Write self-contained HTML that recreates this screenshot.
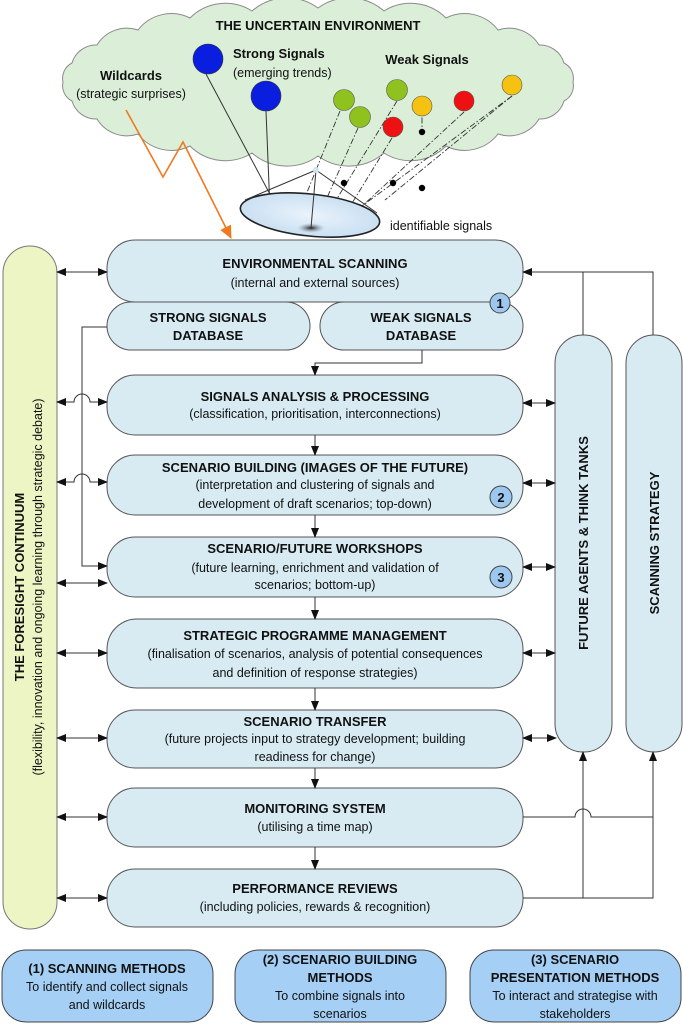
<!DOCTYPE html>
<html><head><meta charset="utf-8"><style>
html,body{margin:0;padding:0;background:#fff;}
svg{display:block;font-family:"Liberation Sans",Arial,sans-serif;}
.b{font-weight:bold;font-size:13px;fill:#111;}
.s{font-size:12.5px;fill:#111;}
.box{fill:#d8ebf3;stroke:#555;stroke-width:1;}
.ln{stroke:#333;stroke-width:1;fill:none;}
.dd{stroke:#333;stroke-width:0.9;fill:none;stroke-dasharray:6 2 1.5 2;}
</style></head><body>
<svg width="683" height="1024" viewBox="0 0 683 1024" xmlns="http://www.w3.org/2000/svg">
<defs>
<marker id="a" markerWidth="10" markerHeight="10" refX="9" refY="5" orient="auto" markerUnits="userSpaceOnUse"><path d="M0,1 L10,5 L0,9 Z" fill="#111"/></marker>
<marker id="as" markerWidth="10" markerHeight="10" refX="1" refY="5" orient="auto" markerUnits="userSpaceOnUse"><path d="M10,1 L0,5 L10,9 Z" fill="#111"/></marker>
<marker id="ao" markerWidth="14" markerHeight="14" refX="12" refY="7" orient="auto" markerUnits="userSpaceOnUse"><path d="M0,1 L13,7 L0,13 Z" fill="#f07a20"/></marker>
<radialGradient id="dg" cx="0.5" cy="0.5" r="0.6"><stop offset="0" stop-color="#eaf3fb"/><stop offset="1" stop-color="#c3dcf0"/></radialGradient>
<radialGradient id="sp" cx="0.5" cy="0.5" r="0.5"><stop offset="0" stop-color="#222"/><stop offset="1" stop-color="#9ab" stop-opacity="0"/></radialGradient>
</defs>

<!-- cloud -->
<path d="M573,82 A17,17 0 0 1 564,101 A25,25 0 0 1 539,119 A35,35 0 0 1 498,134 A42,42 0 0 1 446,146 A50,50 0 0 1 384,153 A53,53 0 0 1 318,156 A53,53 0 0 1 252,153 A50,50 0 0 1 190,146 A42,42 0 0 1 138,134 A35,35 0 0 1 97,119 A25,25 0 0 1 72,101 A17,17 0 0 1 63,82 A17,17 0 0 1 72,63 A25,25 0 0 1 97,45 A35,35 0 0 1 138,30 A42,42 0 0 1 190,18 A50,50 0 0 1 252,11 A53,53 0 0 1 318,8 A53,53 0 0 1 384,11 A50,50 0 0 1 446,18 A42,42 0 0 1 498,30 A35,35 0 0 1 539,45 A25,25 0 0 1 564,63 A17,17 0 0 1 573,82 Z" fill="#dbefd8" stroke="#8a8a8a" stroke-width="1"/>
<text x="318" y="30" text-anchor="middle" class="b" font-size="13.5">THE UNCERTAIN ENVIRONMENT</text>
<text x="233" y="58" class="b">Strong Signals</text>
<text x="233" y="77" class="s">(emerging trends)</text>
<text x="427" y="64" text-anchor="middle" class="b">Weak Signals</text>
<text x="131" y="80" text-anchor="middle" class="b">Wildcards</text>
<text x="131" y="98" text-anchor="middle" class="s">(strategic surprises)</text>

<!-- signal lines -->
<line class="ln" x1="206" y1="74" x2="281" y2="215"/>
<line class="ln" x1="266" y1="111" x2="270" y2="210"/>
<line class="dd" x1="340" y1="111" x2="295" y2="222"/>
<line class="dd" x1="358" y1="128" x2="318" y2="218"/>
<line class="dd" x1="397" y1="101" x2="322" y2="223"/>
<line class="dd" x1="392" y1="138" x2="338" y2="226"/>
<line class="dd" x1="464" y1="112" x2="360" y2="208"/>
<line class="dd" x1="512" y1="96" x2="336" y2="225"/>
<line class="dd" x1="512" y1="96" x2="385" y2="200"/>
<line class="dd" x1="422" y1="106" x2="422" y2="130"/>

<!-- balls -->
<circle cx="208" cy="59" r="15" fill="#0a1ee0" stroke="#333" stroke-width="0.6"/>
<circle cx="266" cy="96" r="15" fill="#0a1ee0" stroke="#333" stroke-width="0.6"/>
<circle cx="344" cy="100" r="10.5" fill="#8fc21e" stroke="#555" stroke-width="0.6"/>
<circle cx="360" cy="117" r="10.5" fill="#8fc21e" stroke="#555" stroke-width="0.6"/>
<circle cx="397" cy="90" r="10.5" fill="#8fc21e" stroke="#555" stroke-width="0.6"/>
<circle cx="422" cy="106" r="10" fill="#f5c212" stroke="#555" stroke-width="0.6"/>
<circle cx="512" cy="85" r="10" fill="#f5c212" stroke="#555" stroke-width="0.6"/>
<circle cx="393" cy="127" r="10" fill="#ee1111" stroke="#555" stroke-width="0.6"/>
<circle cx="464" cy="101" r="10" fill="#ee1111" stroke="#555" stroke-width="0.6"/>
<circle cx="422" cy="132" r="3.2" fill="#000"/>
<circle cx="344" cy="183" r="3.2" fill="#000"/>
<circle cx="393" cy="183" r="3.2" fill="#000"/>
<circle cx="422" cy="188" r="3.2" fill="#000"/>

<!-- dish -->
<ellipse cx="310" cy="215" rx="70" ry="21" transform="rotate(6 310 215)" fill="url(#dg)" stroke="#222" stroke-width="1.6"/>
<ellipse cx="311" cy="228" rx="14" ry="5" fill="url(#sp)"/>
<line class="ln" x1="316" y1="170" x2="245" y2="200"/>
<line class="ln" x1="316" y1="170" x2="377" y2="213"/>
<line class="ln" x1="316" y1="170" x2="311" y2="228"/>
<circle cx="316" cy="170" r="3" fill="#cfe3f6"/>
<text x="390" y="230" class="s" font-size="13">identifiable signals</text>

<!-- wildcard zigzag -->
<polyline points="126,110 163,177 183,142 231,238" fill="none" stroke="#f07a20" stroke-width="1.6" marker-end="url(#ao)"/>

<!-- left pill -->
<rect x="3" y="246" width="54" height="683" rx="27" fill="#eef5c4" stroke="#777" stroke-width="1"/>
<text transform="translate(24,587) rotate(-90)" text-anchor="middle" class="b" font-size="14">THE FORESIGHT CONTINUUM</text>
<text transform="translate(42,587) rotate(-90)" text-anchor="middle" class="s" font-size="13.5">(flexibility, innovation and ongoing learning through strategic debate)</text>

<!-- right pills -->
<rect x="555" y="335" width="57" height="417" rx="28" fill="#d8ebf3" stroke="#555"/>
<text transform="translate(588,543) rotate(-90)" text-anchor="middle" class="b" font-size="14">FUTURE AGENTS &amp; THINK TANKS</text>
<rect x="626" y="335" width="56" height="417" rx="28" fill="#d8ebf3" stroke="#555"/>
<text transform="translate(659,543) rotate(-90)" text-anchor="middle" class="b" font-size="14">SCANNING STRATEGY</text>

<!-- main boxes -->
<rect class="box" x="107" y="240" width="416" height="62" rx="28"/>
<text x="315" y="268" text-anchor="middle" class="b">ENVIRONMENTAL SCANNING</text>
<text x="315" y="287" text-anchor="middle" class="s">(internal and external sources)</text>
<rect class="box" x="107" y="302" width="203" height="48" rx="24"/>
<text x="208" y="322" text-anchor="middle" class="b">STRONG SIGNALS</text>
<text x="208" y="340" text-anchor="middle" class="b">DATABASE</text>
<rect class="box" x="320" y="302" width="203" height="48" rx="24"/>
<text x="421" y="322" text-anchor="middle" class="b">WEAK SIGNALS</text>
<text x="421" y="340" text-anchor="middle" class="b">DATABASE</text>
<circle cx="500" cy="303" r="10" fill="#9cc8f0" stroke="#444"/>
<text x="500" y="308" text-anchor="middle" class="b" font-size="12">1</text>

<rect class="box" x="107" y="375" width="416" height="60" rx="28"/>
<text x="315" y="401" text-anchor="middle" class="b">SIGNALS ANALYSIS &amp; PROCESSING</text>
<text x="315" y="418" text-anchor="middle" class="s">(classification, prioritisation, interconnections)</text>

<rect class="box" x="107" y="455" width="416" height="60" rx="28"/>
<text x="315" y="472" text-anchor="middle" class="b">SCENARIO BUILDING (IMAGES OF THE FUTURE)</text>
<text x="315" y="489" text-anchor="middle" class="s">(interpretation and clustering of signals and</text>
<text x="315" y="508" text-anchor="middle" class="s">development of draft scenarios; top-down)</text>
<circle cx="501" cy="497" r="11" fill="#9cc8f0" stroke="#444"/>
<text x="501" y="502" text-anchor="middle" class="b" font-size="12">2</text>

<rect class="box" x="107" y="537" width="416" height="60" rx="28"/>
<text x="315" y="553" text-anchor="middle" class="b">SCENARIO/FUTURE WORKSHOPS</text>
<text x="315" y="572" text-anchor="middle" class="s">(future learning, enrichment and validation of</text>
<text x="315" y="589" text-anchor="middle" class="s">scenarios; bottom-up)</text>
<circle cx="501" cy="577" r="11" fill="#9cc8f0" stroke="#444"/>
<text x="501" y="582" text-anchor="middle" class="b" font-size="12">3</text>

<rect class="box" x="107" y="619" width="416" height="69" rx="30"/>
<text x="315" y="640" text-anchor="middle" class="b">STRATEGIC PROGRAMME MANAGEMENT</text>
<text x="315" y="658" text-anchor="middle" class="s">(finalisation of scenarios, analysis of potential consequences</text>
<text x="315" y="677" text-anchor="middle" class="s">and definition of response strategies)</text>

<rect class="box" x="107" y="710" width="416" height="58" rx="28"/>
<text x="315" y="726" text-anchor="middle" class="b">SCENARIO TRANSFER</text>
<text x="315" y="743" text-anchor="middle" class="s">(future projects input to strategy development; building</text>
<text x="315" y="761" text-anchor="middle" class="s">readiness for change)</text>

<rect class="box" x="107" y="788" width="416" height="59" rx="28"/>
<text x="315" y="813" text-anchor="middle" class="b">MONITORING SYSTEM</text>
<text x="315" y="831" text-anchor="middle" class="s">(utilising a time map)</text>

<rect class="box" x="107" y="869" width="416" height="58" rx="28"/>
<text x="315" y="893" text-anchor="middle" class="b">PERFORMANCE REVIEWS</text>
<text x="315" y="911" text-anchor="middle" class="s">(including policies, rewards &amp; recognition)</text>

<!-- vertical flow arrows -->
<polyline class="ln" points="422,350 422,363 315,363 315,375" marker-end="url(#a)"/>
<line class="ln" x1="315" y1="435" x2="315" y2="455" marker-end="url(#a)"/>
<line class="ln" x1="315" y1="515" x2="315" y2="537" marker-end="url(#a)"/>
<line class="ln" x1="315" y1="597" x2="315" y2="619" marker-end="url(#a)"/>
<line class="ln" x1="315" y1="688" x2="315" y2="710" marker-end="url(#a)"/>
<line class="ln" x1="315" y1="768" x2="315" y2="788" marker-end="url(#a)"/>
<line class="ln" x1="315" y1="847" x2="315" y2="869" marker-end="url(#a)"/>

<!-- left bidirectional -->
<line class="ln" x1="57" y1="272" x2="107" y2="272" marker-start="url(#as)" marker-end="url(#a)"/>
<path class="ln" d="M57,402 L74,402 A8,8 0 0 1 90,402 L107,402" marker-start="url(#as)" marker-end="url(#a)"/>
<path class="ln" d="M57,482 L74,482 A8,8 0 0 1 90,482 L107,482" marker-start="url(#as)" marker-end="url(#a)"/>
<line class="ln" x1="57" y1="583" x2="107" y2="583" marker-start="url(#as)" marker-end="url(#a)"/>
<line class="ln" x1="57" y1="653" x2="107" y2="653" marker-start="url(#as)" marker-end="url(#a)"/>
<line class="ln" x1="57" y1="738" x2="107" y2="738" marker-start="url(#as)" marker-end="url(#a)"/>
<line class="ln" x1="57" y1="817" x2="107" y2="817" marker-start="url(#as)" marker-end="url(#a)"/>
<line class="ln" x1="57" y1="898" x2="107" y2="898" marker-start="url(#as)" marker-end="url(#a)"/>
<!-- strong db to workshops -->
<polyline class="ln" points="107,327 82,327 82,566 107,566" marker-end="url(#a)"/>

<!-- right bidirectional -->
<line class="ln" x1="523" y1="403" x2="555" y2="403" marker-start="url(#as)" marker-end="url(#a)"/>
<line class="ln" x1="523" y1="483" x2="555" y2="483" marker-start="url(#as)" marker-end="url(#a)"/>
<line class="ln" x1="523" y1="567" x2="555" y2="567" marker-start="url(#as)" marker-end="url(#a)"/>
<line class="ln" x1="523" y1="653" x2="555" y2="653" marker-start="url(#as)" marker-end="url(#a)"/>
<line class="ln" x1="523" y1="738" x2="556" y2="738" marker-start="url(#as)" marker-end="url(#a)"/>

<!-- top feedback -->
<polyline class="ln" points="653,335 653,272 523,272" marker-end="url(#a)"/>
<line class="ln" x1="583" y1="272" x2="583" y2="335"/>

<!-- bottom feedback -->
<path class="ln" d="M523,817 L575,817 A8,8 0 0 1 591,817 L653,817"/>
<polyline class="ln" points="523,898 653,898 653,752" marker-end="url(#a)"/>
<line class="ln" x1="583" y1="898" x2="583" y2="752" marker-end="url(#a)"/>

<!-- bottom boxes -->
<rect x="2" y="950" width="211" height="72" rx="24" fill="#a5cff5" stroke="#444"/>
<text x="107" y="973" text-anchor="middle" class="b" font-size="13.5">(1)  SCANNING METHODS</text>
<text x="107" y="991" text-anchor="middle" class="s" font-size="13">To identify and collect signals</text>
<text x="107" y="1009" text-anchor="middle" class="s" font-size="13">and wildcards</text>

<rect x="235" y="950" width="211" height="72" rx="24" fill="#a5cff5" stroke="#444"/>
<text x="340" y="964" text-anchor="middle" class="b" font-size="13.5">(2)  SCENARIO BUILDING</text>
<text x="340" y="982" text-anchor="middle" class="b" font-size="13.5">METHODS</text>
<text x="340" y="1000" text-anchor="middle" class="s" font-size="13">To combine signals into</text>
<text x="340" y="1018" text-anchor="middle" class="s" font-size="13">scenarios</text>

<rect x="470" y="950" width="211" height="72" rx="24" fill="#a5cff5" stroke="#444"/>
<text x="575" y="964" text-anchor="middle" class="b" font-size="13.5">(3)  SCENARIO</text>
<text x="575" y="982" text-anchor="middle" class="b" font-size="13.5">PRESENTATION METHODS</text>
<text x="575" y="1000" text-anchor="middle" class="s" font-size="13">To interact and strategise with</text>
<text x="575" y="1018" text-anchor="middle" class="s" font-size="13">stakeholders</text>
</svg>
</body></html>
